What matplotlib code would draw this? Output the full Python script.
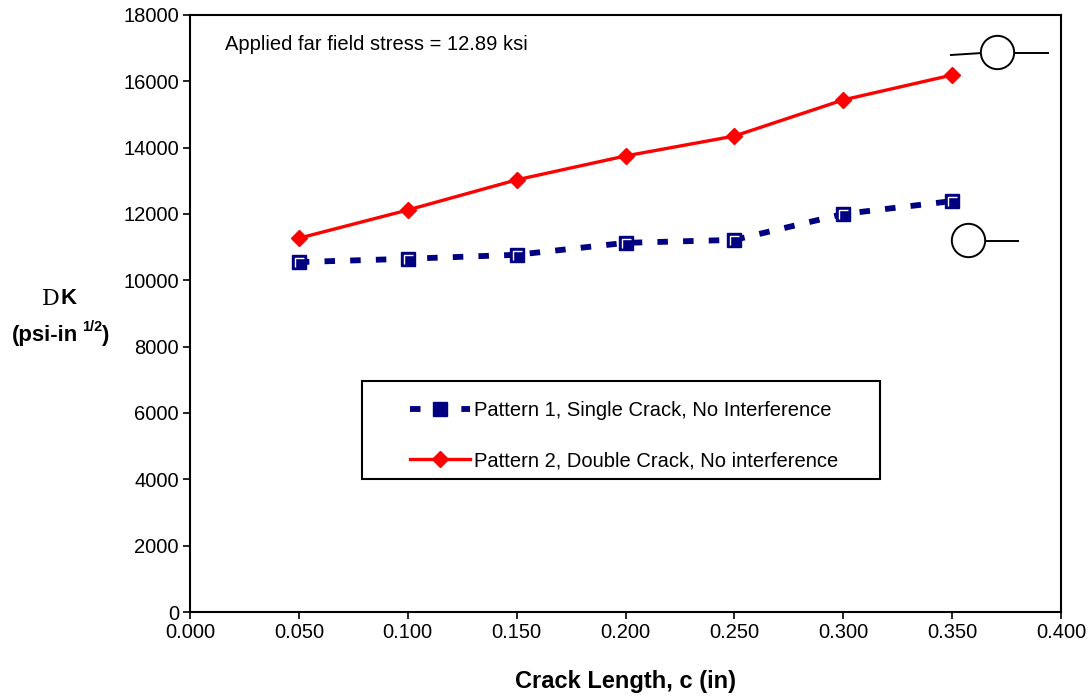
import matplotlib
matplotlib.use("Agg")
import matplotlib.pyplot as plt
from matplotlib.path import Path
from matplotlib.patches import Rectangle
import numpy as np

plt.rcParams['font.family'] = ['Liberation Sans', 'DejaVu Sans']

crack_length = [0.05, 0.10, 0.15, 0.20, 0.25, 0.30, 0.35]
pattern1 = [10550, 10650, 10770, 11130, 11220, 12000, 12390]
pattern2 = [11270, 12120, 13030, 13750, 14350, 15440, 16190]
label1 = "Pattern 1, Single Crack, No Interference"
label2 = "Pattern 2, Double Crack, No interference"
xticks = [0.0, 0.05, 0.10, 0.15, 0.20, 0.25, 0.30, 0.35, 0.40]
yticks = list(range(0, 18001, 2000))

W, H = 1091, 698
fig = plt.figure(figsize=(W / 100, H / 100), dpi=100)
ax = fig.add_axes([190 / W, 1 - 612 / H, 871 / W, 597 / H])

navy = '#000080'
l1, = ax.plot(crack_length, pattern1, color=navy, lw=4.2, dashes=(1.8, 2.6),
              marker='s', ms=10, mfc=navy, mec=navy, label=label1, zorder=3)
hl = Path([(-0.6, -0.8), (-0.6, 0.6), (0.7, 0.6)], [Path.MOVETO, Path.LINETO, Path.LINETO])
ax.plot(crack_length, pattern1, ls='none', marker=hl, ms=7.5, mfc='none', mec='white', mew=1.0, zorder=4)
l2, = ax.plot(crack_length, pattern2, color='#ff0000', lw=2.4, marker='D', ms=8.5,
              mfc='#ff0000', mec='#ff0000', label=label2, zorder=3)

ax.set_xlim(0, 0.4)
ax.set_ylim(0, 18000)
ax.set_xticks(xticks)
ax.set_xticklabels([f"{v:.3f}" for v in xticks])
ax.set_yticks(yticks)
ax.tick_params(direction='out', length=5, width=1.2, labelsize=14.5, colors='black', pad=3)
for s in ax.spines.values():
    s.set_linewidth(1.5)
    s.set_color('black')

ax.set_xlabel("Crack Length, c (in)", fontsize=17, fontweight='bold', labelpad=20)
fig.text(51 / W, 1 - 299 / H, "D", fontsize=16, family='DejaVu Serif', ha='center', va='center')
fig.text(69 / W, 1 - 299 / H, "K", fontsize=16, fontweight='bold', ha='center', va='center')
fig.text(12 / W, 1 - 336 / H, "(psi-in", fontsize=16, fontweight='bold', ha='left', va='center')
fig.text(82 / W, 1 - 327 / H, "1/2", fontsize=10.5, fontweight='bold', ha='left', va='center')
fig.text(101 / W, 1 - 336 / H, ")", fontsize=16, fontweight='bold', ha='left', va='center')

ax.text((225 - 190) / 871, (612 - 45) / 597, "Applied far field stress = 12.89 ksi", transform=ax.transAxes,
        fontsize=14.5, ha='left', va='center')

def px2ax(x, y):
    return ((x - 190) / 871.0, (612 - y) / 597.0)

for (x0, y0), (x1, y1) in [((951, 55), (982, 53)), ((1013, 53), (1048, 53)), ((984, 241), (1018, 241))]:
    a = px2ax(x0, y0); b = px2ax(x1, y1)
    ax.plot([a[0], b[0]], [a[1], b[1]], color='black', lw=1.4, transform=ax.transAxes, clip_on=False)
for cx, cy in [(997, 52), (968, 240)]:
    c = px2ax(cx, cy)
    ax.plot([c[0]], [c[1]], marker='o', ms=24, mfc='white', mec='black', mew=1.4,
            transform=ax.transAxes, clip_on=False)

# legend frame
fx0, fy0 = px2ax(362, 479)
fx1, fy1 = px2ax(880, 381)
ax.add_patch(Rectangle((fx0, fy0), fx1 - fx0, fy1 - fy0, transform=ax.transAxes,
                       facecolor='white', edgecolor='black', lw=1.5, zorder=5, clip_on=False))

leg = ax.legend(handles=[l1, l2], loc='upper left', bbox_to_anchor=px2ax(410, 401),
                fontsize=14.5, frameon=False, handlelength=3.0,
                borderpad=0, labelspacing=1.55, handletextpad=0.2, borderaxespad=0)
leg.set_zorder(6)

fig.savefig("out.png", dpi=100)
